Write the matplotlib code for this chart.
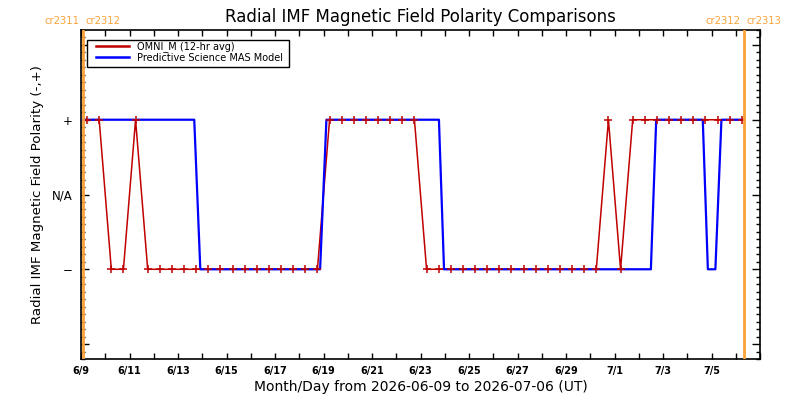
import matplotlib
matplotlib.use("Agg")
import matplotlib.pyplot as plt
from matplotlib.patches import Rectangle
import numpy as np

# ---- data (days since 2026-06-09 00:00 UT) ----
omni_t = [0.25, 0.75, 1.25, 1.75, 2.25, 2.75, 3.25, 3.75, 4.25, 4.75, 5.25, 5.75,
          6.25, 6.75, 7.25, 7.75, 8.25, 8.75, 9.25, 9.75, 10.25, 10.75, 11.25, 11.75,
          12.25, 12.75, 13.25, 13.75, 14.25, 14.75, 15.25, 15.75, 16.25, 16.75, 17.25,
          17.75, 18.25, 18.75, 19.25, 19.75, 20.25, 20.75, 21.25, 21.75, 22.25, 22.75,
          23.25, 23.75, 24.25, 24.75, 25.25, 25.75, 26.25, 26.75, 27.25]
omni_pol = [1, 1, -1, -1, 1, -1, -1, -1, -1, -1, -1, -1,
            -1, -1, -1, -1, -1, -1, -1, -1, 1, 1, 1, 1,
            1, 1, 1, 1, -1, -1, -1, -1, -1, -1, -1,
            -1, -1, -1, -1, -1, -1, -1, -1, 1, -1, 1,
            1, 1, 1, 1, 1, 1, 1, 1, 1]

mas_t = [0.07, 4.67, 4.92, 9.86, 10.12, 14.76, 14.97, 23.50, 23.72, 25.64, 25.85,
         26.16, 26.41, 27.33]
mas_pol = [1, 1, -1, -1, 1, 1, -1, -1, 1, 1, -1, -1, 1, 1]

cr_bound_t = [0.07, 27.33]
cr_left_labels = ["cr2311", "cr2312"]
cr_right_labels = ["cr2312", "cr2313"]

xtick_pos = [0, 2, 4, 6, 8, 10, 12, 14, 16, 18, 20, 22, 24, 26]
xtick_labels = ["6/9", "6/11", "6/13", "6/15", "6/17", "6/19", "6/21", "6/23",
                "6/25", "6/27", "6/29", "7/1", "7/3", "7/5"]
ytick_pos = [-1, 0, 1]
ytick_labels = ["\u2212", "N/A", "+"]

RED = "#c00000"
BLUE = "#0000ff"
ORANGE = "#f9a23a"

fig = plt.figure(figsize=(8, 4), dpi=100)
ax = fig.add_axes([81/800, 1 - 359/400, (760-81)/800, (359-30)/400])

ax.plot(omni_t, omni_pol, color=RED, lw=1.1, zorder=2, label="OMNI_M (12-hr avg)")
ax.plot(mas_t, mas_pol, color=BLUE, lw=1.6, zorder=3, label="Predictive Science MAS Model")
ax.plot(omni_t, omni_pol, linestyle="none", marker="+", ms=6, mew=1.1, color=RED, zorder=4)

for xb in cr_bound_t:
    ax.axvline(xb, color=ORANGE, lw=2, zorder=5)

ax.set_xlim(0, 28)
ax.set_ylim(-2.2, 2.2)

ax.set_xticks(xtick_pos)
ax.set_xticklabels(xtick_labels, fontsize=7, fontweight="bold")
ax.set_xticks(np.arange(0, 29, 1), minor=True)
ax.set_yticks([-2, -1, 0, 1, 2])
ax.set_yticklabels(["", ytick_labels[0], ytick_labels[1], ytick_labels[2], ""], fontsize=8.5)
ax.set_yticks(np.arange(-2.2, 2.21, 0.1), minor=True)

ax.tick_params(axis="x", which="both", direction="in", length=4, width=1,
               top=True, bottom=True, pad=5)
ax.tick_params(axis="y", which="major", direction="in", length=6, width=1,
               left=True, right=True, pad=6)
ax.tick_params(axis="y", which="minor", direction="in", length=3, width=1,
               left=True, right=True)
for s in ax.spines.values():
    s.set_linewidth(1.2)

ax.set_title("Radial IMF Magnetic Field Polarity Comparisons", fontsize=12, pad=6)
ax.set_xlabel("Month/Day from 2026-06-09 to 2026-07-06 (UT)", fontsize=10, labelpad=3)
ax.set_ylabel("Radial IMF Magnetic Field Polarity (-,+)", fontsize=9.6, labelpad=6)

trans = ax.get_xaxis_transform()
yoff = 1.012
ax.text(cr_bound_t[0] - 0.12, yoff, cr_left_labels[0], color=ORANGE, fontsize=7.2,
        ha="right", va="bottom", transform=trans)
ax.text(cr_bound_t[0] + 0.12, yoff, cr_left_labels[1], color=ORANGE, fontsize=7.2,
        ha="left", va="bottom", transform=trans)
ax.text(cr_bound_t[1] - 0.12, yoff, cr_right_labels[0], color=ORANGE, fontsize=7.2,
        ha="right", va="bottom", transform=trans)
ax.text(cr_bound_t[1] + 0.12, yoff, cr_right_labels[1], color=ORANGE, fontsize=7.2,
        ha="left", va="bottom", transform=trans)

# legend box drawn as a frame, legend entries inside
ax.add_patch(Rectangle((6/679, (359-67)/329), 202/679, 27/329, transform=ax.transAxes,
                       facecolor="white", edgecolor="black", lw=1, zorder=6))
leg = ax.legend(loc="upper left", bbox_to_anchor=(15/679, (359-41)/329), fontsize=7,
                frameon=False, handlelength=3.4, borderpad=0, labelspacing=0.08,
                handletextpad=0.8, borderaxespad=0)
leg.set_zorder(7)
for h in leg.get_lines():
    h.set_linewidth(1.8)

fig.savefig("out.png", dpi=100)
